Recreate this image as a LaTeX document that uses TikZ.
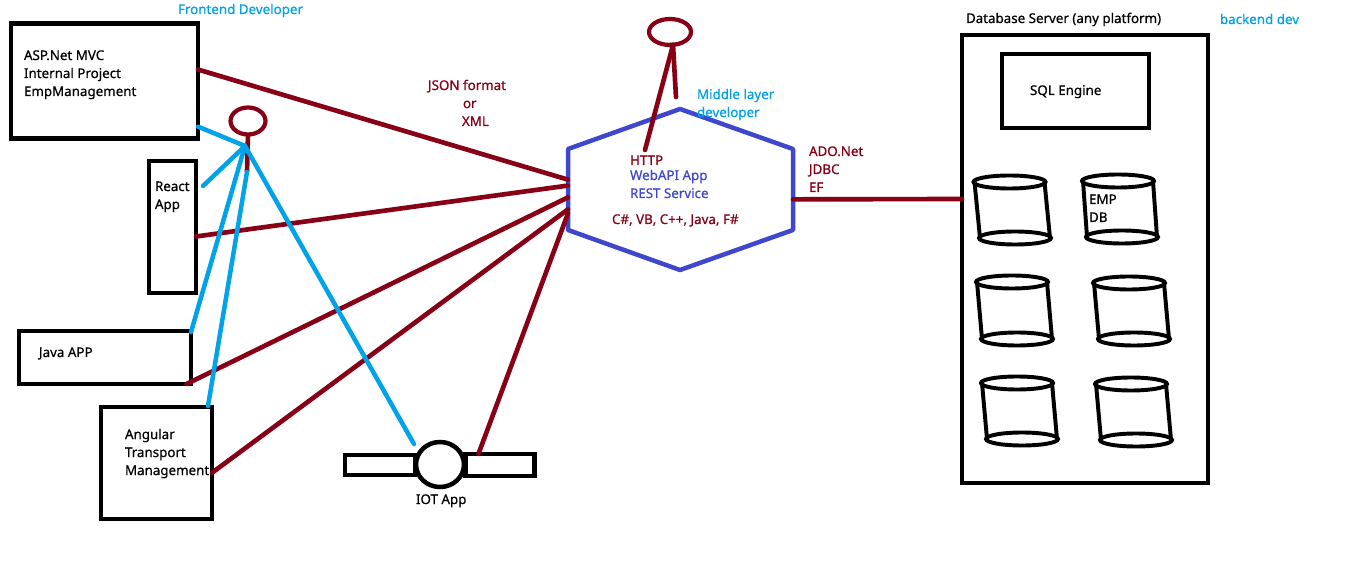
\documentclass[tikz,border=0pt]{standalone}
\usepackage{fontspec}
\setmainfont[FakeBold=0.6]{Noto Sans}
\usetikzlibrary{shapes.geometric}
\definecolor{darkred}{HTML}{880015}
\definecolor{skyblue}{HTML}{00A2E8}
\definecolor{hexblue}{HTML}{3F48CC}
\tikzset{
	appbox/.style 2 args={draw=black,line width=3.2pt,inner sep=0,outer sep=0,minimum width=#1*0.025cm,minimum height=#2*0.025cm},
	headring/.style 2 args={draw=darkred,ellipse,line width=3pt,inner sep=0,outer sep=0,minimum width=#1*0.025cm,minimum height=#2*0.025cm},
	redline/.style={draw=darkred,line width=3.3pt,line cap=round},
	blueline/.style={draw=skyblue,line width=3.2pt,line cap=round},
	label/.style={inner sep=0,outer sep=0,anchor=base west,align=left,font=\fontsize{9.5}{12.8}\selectfont},
}
\begin{document}
\begin{tikzpicture}[x=0.025cm,y=-0.025cm]
\useasboundingbox (0,0) rectangle (1360,563);

% client apps
\node[appbox={187}{115}] (aspbox) at (104.5,81) {};
\node[appbox={47}{132}] (reactbox) at (172.5,227) {};
\node[appbox={172}{53}] (javabox) at (105,357.5) {};
\node[appbox={111}{112}] (angularbox) at (156.5,463) {};
\node[appbox={70}{20}] (iotleft) at (380,465) {};
\node[appbox={69}{22}] (iotright) at (500,465) {};
\node[appbox={48}{45},ellipse,fill=white] (iotbody) at (440,464.5) {};

% web api hexagon
\node[inner sep=0,outer sep=0,minimum width=225*0.025cm,minimum height=81*0.025cm] (hexbody) at (680.5,189.5) {};
\coordinate (hextop) at (680,109);
\coordinate (hexbottom) at (680,270);
\draw[hexblue,line width=3.2pt,line join=round] (hexbody.north west) -- (hextop) -- (hexbody.north east) -- (hexbody.south east) -- (hexbottom) -- (hexbody.south west) -- cycle;

% server
\node[appbox={246}{448}] (dbserver) at (1085,259) {};
\node[appbox={147}{74}] (sqlbox) at (1075.5,91) {};
\foreach \tx/\ty/\bx/\by in {1009.5/182/1015/238,1118/181/1122/237,1012/282/1017/339,1129/283/1134/339,1017/383/1022/439,1131/384/1136/440}
{
	\draw[black,line width=2.8pt] (\tx,\ty) ellipse (36 and 6.5);
	\draw[black,line width=2.8pt] (\bx,\by) ellipse (36 and 6.5);
	\draw[black,line width=2.8pt] (\tx-35,\ty) -- (\bx-35,\by);
	\draw[black,line width=2.8pt] (\tx+35,\ty) -- (\bx+35,\by);
}

% developers
\node[headring={35}{27}] (fronthead) at (248,121) {};
\node[headring={42}{26}] (midhead) at (670,32) {};
\coordinate (fronthip) at (247,172);
\coordinate (frontneck) at (245,146);
\coordinate (midneck) at (673,45);
\coordinate (midleft) at (645,150);
\coordinate (midright) at (676,97);
\draw[redline,line cap=butt] (fronthead.south) -- (fronthip);
\draw[redline] (midhead.south) -- (midneck) -- (midleft);
\draw[redline] (midneck) -- (midright);

% red links
\draw[redline] (aspbox.7) -- (hexbody.175.6);
\draw[redline] (reactbox.-22) -- (hexbody.178);
\draw[redline] (javabox.-18) -- (hexbody.184);
\draw[redline] (angularbox.-10) -- (hexbody.190.5);
\draw[redline] (iotright.153.5) -- (hexbody.192.8);
\draw[redline] (hexbody.-5.3) -- (dbserver.154);

% blue links
\draw[blueline] (aspbox.-26) -- (frontneck);
\coordinate (reactend) at (203,186);
\coordinate (javaend) at (191,332);
\coordinate (angularend) at (208,406);
\coordinate (iotend) at (414,444);
\draw[blueline] (reactend) -- (frontneck);
\draw[blueline] (javaend) -- (frontneck);
\draw[blueline] (angularend) -- (fronthip);
\draw[blueline] (iotend) -- (frontneck);

% labels
\node[label] (asptext) at (24,96) {ASP.Net MVC\\Internal Project\\EmpManagement};
\node[label] (reacttext) at (155,209) {React\\App};
\node[label] (javatext) at (39,357) {Java APP};
\node[label] (angulartext) at (125,475) {Angular\\Transport\\Management};
\node[label] (iottext) at (416,504) {IOT App};
\node[label,skyblue] (frontlabel) at (178,14) {Frontend Developer};
\node[label,darkred] (jsonlabel) at (428,90) {JSON format};
\node[label,darkred] (orlabel) at (463,108) {or};
\node[label,darkred] (xmllabel) at (462,126) {XML};
\node[label,skyblue] (midlabel) at (697,117) {Middle layer\\developer};
\node[label,darkred] (httplabel) at (630,165) {HTTP};
\node[label,hexblue] (webapilabel) at (630,198) {WebAPI App\\REST Service};
\node[label,darkred] (langlabel) at (612,224) {C\#, VB, C++, Java, F\#};
\node[label,darkred] (adolabel) at (809,192) {ADO.Net\\JDBC\\EF};
\node[label] (dblabel) at (966,23) {Database Server (any platform)};
\node[label,skyblue] (backlabel) at (1220,24) {backend dev};
\node[label] (sqllabel) at (1030,95) {SQL Engine};
\node[label] (emplabel) at (1089,222) {EMP\\DB};
\end{tikzpicture}
\end{document}
